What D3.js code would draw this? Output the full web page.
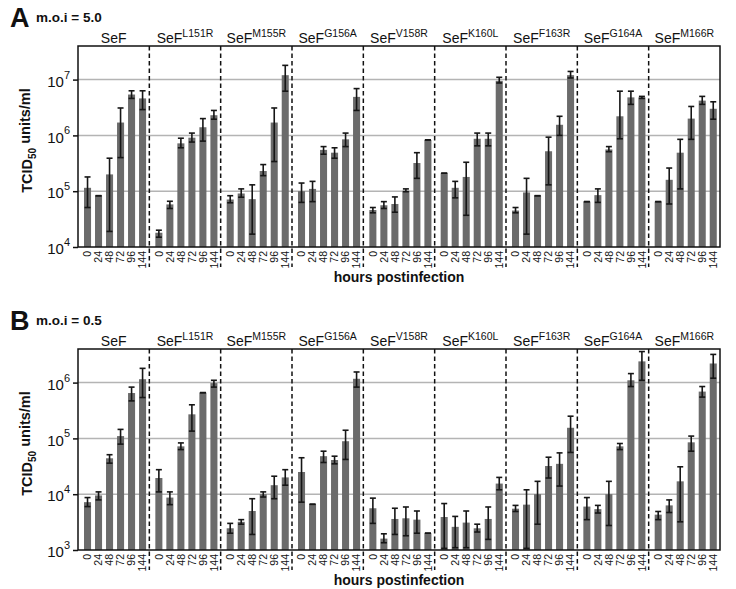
<!DOCTYPE html>
<html>
<head>
<meta charset="utf-8">
<script src="https://cdn.jsdelivr.net/npm/d3@7"></script>
<style>
  body { margin: 0; background: #fff; }
  text { font-family: "Liberation Sans", Arial, sans-serif; fill: #111; }
</style>
</head>
<body>
<svg id="chart" width="736" height="589"></svg>
<script>
// mutant names (superscript after "SeF"), time points
const mutants = ["", "L151R", "M155R", "G156A", "V158R", "K160L", "F163R", "G164A", "M166R"];
const hours = ["0", "24", "48", "72", "96", "144"];

// panel A, m.o.i = 5.0 : TCID50 units/ml, mean and error bar ends
const meanA = [
  [1.15e5, 8.3e4, 2.0e5, 1.7e6, 5.4e6, 4.6e6],
  [1.8e4, 5.8e4, 7.2e5, 9.1e5, 1.4e6, 2.3e6],
  [7.1e4, 9.1e4, 7.2e4, 2.3e5, 1.7e6, 1.2e7],
  [1.0e5, 1.1e5, 5.5e5, 4.9e5, 8.5e5, 4.9e6],
  [4.6e4, 5.6e4, 5.9e4, 1.02e5, 3.2e5, 8.3e5],
  [2.1e5, 1.15e5, 1.8e5, 8.7e5, 8.7e5, 9.5e6],
  [4.5e4, 9.5e4, 8.3e4, 5.2e5, 1.55e6, 1.2e7],
  [6.5e4, 8.5e4, 5.6e5, 2.2e6, 4.8e6, 4.8e6],
  [6.5e4, 1.6e5, 4.9e5, 2.0e6, 4.2e6, 3.0e6]
];
const hiA = [
  [1.8e5, 8.3e4, 3.9e5, 3.1e6, 6.3e6, 6.3e6],
  [2.0e4, 6.6e4, 8.9e5, 1.1e6, 2.0e6, 2.8e6],
  [8.3e4, 1.1e5, 1.3e5, 3.0e5, 3.1e6, 1.8e7],
  [1.4e5, 1.5e5, 6.3e5, 6.0e5, 1.1e6, 6.9e6],
  [5.1e4, 6.5e4, 7.9e4, 1.1e5, 4.9e5, 8.3e5],
  [2.1e5, 1.5e5, 3.3e5, 1.1e6, 1.1e6, 1.1e7],
  [5.1e4, 1.7e5, 8.3e4, 9.3e5, 2.2e6, 1.4e7],
  [6.5e4, 1.1e5, 6.3e5, 6.2e6, 6.2e6, 5.0e6],
  [6.5e4, 2.6e5, 8.5e5, 3.3e6, 5.0e6, 4.0e6]
];
const loA = [
  [5.1e4, 8.3e4, 1.9e4, 4.0e5, 4.6e6, 2.9e6],
  [1.5e4, 4.9e4, 6.0e5, 7.6e5, 7.9e5, 1.95e6],
  [6.2e4, 7.8e4, 1.7e4, 1.9e5, 3.4e5, 6.2e6],
  [6.3e4, 6.5e4, 4.6e5, 3.9e5, 6.3e5, 2.8e6],
  [4.1e4, 4.9e4, 4.2e4, 9.8e4, 1.7e5, 8.3e5],
  [2.1e5, 7.6e4, 3.7e4, 6.5e5, 6.5e5, 8.7e6],
  [4.1e4, 1.7e4, 8.3e4, 1.3e5, 1.0e6, 1.07e7],
  [6.5e4, 6.3e4, 5.1e5, 8.7e5, 3.6e6, 4.6e6],
  [6.5e4, 5.9e4, 1.1e5, 8.5e5, 3.6e6, 1.95e6]
];

// panel B, m.o.i = 0.5
const meanB = [
  [7.2e3, 9.5e3, 4.4e4, 1.1e5, 6.5e5, 1.15e6],
  [1.95e4, 8.7e3, 7.2e4, 2.7e5, 6.6e5, 9.8e5],
  [2.45e3, 3.2e3, 5.0e3, 1.0e4, 1.45e4, 2.0e4],
  [2.5e4, 6.6e3, 4.8e4, 4.1e4, 8.9e4, 1.17e6],
  [5.6e3, 1.6e3, 3.6e3, 3.7e3, 3.5e3, 2.0e3],
  [3.9e3, 2.6e3, 3.1e3, 2.45e3, 3.6e3, 1.55e4],
  [5.5e3, 6.5e3, 1.0e4, 3.2e4, 3.5e4, 1.55e5],
  [6.0e3, 5.4e3, 1.0e4, 7.2e4, 1.1e6, 2.4e6],
  [4.3e3, 6.3e3, 1.7e4, 8.5e4, 6.9e5, 2.2e6]
];
const hiB = [
  [8.7e3, 1.1e4, 5.1e4, 1.45e5, 8.3e5, 1.8e6],
  [2.75e4, 1.1e4, 8.3e4, 4.0e5, 6.6e5, 1.1e6],
  [3.0e3, 3.5e3, 8.3e3, 1.1e4, 2.1e4, 2.75e4],
  [4.5e4, 6.6e3, 5.9e4, 4.8e4, 1.4e5, 1.55e6],
  [8.5e3, 1.95e3, 5.6e3, 5.9e3, 5.0e3, 2.0e3],
  [6.8e3, 4.0e3, 5.0e3, 2.9e3, 5.9e3, 2.0e4],
  [6.3e3, 1.2e4, 1.7e4, 4.6e4, 5.5e4, 2.5e5],
  [8.7e3, 6.3e3, 1.7e4, 8.1e4, 1.45e6, 3.6e6],
  [4.9e3, 7.9e3, 3.1e4, 1.1e5, 8.5e5, 3.2e6]
];
const loB = [
  [6.0e3, 7.9e3, 3.6e4, 7.9e4, 4.7e5, 5.4e5],
  [1.1e4, 6.5e3, 6.3e4, 1.35e5, 6.6e5, 8.3e5],
  [2.0e3, 2.9e3, 1.9e3, 8.9e3, 8.3e3, 1.45e4],
  [7.2e3, 6.6e3, 3.7e4, 3.5e4, 4.2e4, 8.3e5],
  [3.0e3, 1.35e3, 1.9e3, 1.8e3, 2.0e3, 2.0e3],
  [1.07e3, 1.1e3, 1.1e3, 2.1e3, 1.55e3, 1.2e4],
  [4.9e3, 1.07e3, 2.9e3, 1.95e4, 1.4e4, 5.6e4],
  [3.5e3, 4.6e3, 2.75e3, 6.3e4, 8.5e5, 1.1e6],
  [3.5e3, 4.7e3, 3.2e3, 5.9e4, 5.5e5, 1.2e6]
];

const svg = d3.select("#chart");
const left = 78, right = 720;

function drawPanel(p) {
  const {top, bottom, domain, decades, mean, hi, lo, letter, moi} = p;

  const x0 = d3.scaleBand().domain(d3.range(mutants.length)).range([left, right]);
  const x1 = d3.scaleBand().domain(hours).range([0, x0.bandwidth()])
      .paddingInner(0.36).paddingOuter(0.42).align(0.65);
  const y = d3.scaleLog().domain(domain).range([bottom, top]);

  const g = svg.append("g");

  // grid lines
  g.selectAll("line.grid")
    .data(decades.slice(1))
    .enter().append("line")
    .attr("x1", left).attr("x2", right)
    .attr("y1", d => y(d)).attr("y2", d => y(d))
    .attr("stroke", "#b4b4b4").attr("stroke-width", 1.5);

  // bars
  const rows = [];
  mean.forEach((arr, gi) => arr.forEach((v, k) => rows.push({gi, h: hours[k], v, hi: hi[gi][k], lo: lo[gi][k]})));

  g.selectAll("rect.bar")
    .data(rows)
    .enter().append("rect")
    .attr("x", d => x0(d.gi) + x1(d.h))
    .attr("width", x1.bandwidth())
    .attr("y", d => y(d.v))
    .attr("height", d => bottom - y(d.v))
    .attr("fill", "#6b6b6b");

  // error bars
  const cap = 3;
  const eb = g.selectAll("g.err").data(rows).enter().append("g")
    .attr("transform", d => `translate(${x0(d.gi) + x1(d.h) + x1.bandwidth() / 2},0)`)
    .attr("stroke", "#161616").attr("stroke-width", 1.6);
  eb.append("line").attr("y1", d => y(d.hi)).attr("y2", d => y(d.lo));
  eb.append("line").attr("x1", -cap).attr("x2", cap).attr("y1", d => y(d.hi)).attr("y2", d => y(d.hi));
  eb.append("line").attr("x1", -cap).attr("x2", cap).attr("y1", d => y(d.lo)).attr("y2", d => y(d.lo));

  // dashed separators
  g.selectAll("line.sep")
    .data(d3.range(1, mutants.length))
    .enter().append("line")
    .attr("x1", d => x0(d)).attr("x2", d => x0(d))
    .attr("y1", top).attr("y2", bottom + 20)
    .attr("stroke", "#111").attr("stroke-width", 1.5)
    .attr("stroke-dasharray", "4.5,3");

  // frame
  g.append("rect")
    .attr("x", left).attr("y", top)
    .attr("width", right - left).attr("height", bottom - top)
    .attr("fill", "none").attr("stroke", "#111").attr("stroke-width", 1.5);

  // y axis
  const yAxis = d3.axisLeft(y).tickValues(decades).tickSize(5).tickPadding(3);
  const ya = g.append("g").attr("transform", `translate(${left},0)`).call(yAxis);
  ya.select(".domain").remove();
  ya.selectAll(".tick line").attr("stroke", "#111").attr("stroke-width", 1.5);
  ya.selectAll(".tick text").text(null)
    .attr("font-size", 15).attr("dy", "0.45em")
    .each(function(d) {
      const t = d3.select(this);
      t.append("tspan").text("10");
      t.append("tspan").attr("font-size", 11).attr("dy", "-0.75em").text(Math.round(Math.log10(d)));
    });

  // x tick labels (rotated hours)
  g.selectAll("text.hr")
    .data(rows)
    .enter().append("text")
    .attr("transform", d => `translate(${x0(d.gi) + x1(d.h) + x1.bandwidth() / 2},${bottom + 4}) rotate(-90)`)
    .attr("text-anchor", "end").attr("dy", "0.35em")
    .attr("font-size", 10.5)
    .text(d => d.h);

  // group titles
  const gt = g.selectAll("text.grp")
    .data(mutants)
    .enter().append("text")
    .attr("x", (d, i) => x0(i) + x0.bandwidth() / 2)
    .attr("y", top - 3)
    .attr("text-anchor", "middle")
    .attr("font-size", 14);
  gt.append("tspan").text("SeF");
  gt.append("tspan").attr("font-size", 10.5).attr("dy", "-0.55em").text(d => d);

  // axis titles
  g.append("text")
    .attr("x", 399).attr("y", bottom + 35)
    .attr("text-anchor", "middle")
    .attr("font-size", 14).attr("font-weight", "bold")
    .text("hours postinfection");

  const yt = g.append("text")
    .attr("transform", `translate(32,${(top + bottom) / 2 - 6}) rotate(-90)`)
    .attr("text-anchor", "middle")
    .attr("font-size", 14.5).attr("font-weight", "bold");
  yt.append("tspan").text("TCID");
  yt.append("tspan").attr("font-size", 10).attr("dy", "0.35em").text("50");
  yt.append("tspan").attr("dy", "-0.35em").text(" units/ml");

  // panel letter
  g.append("text").attr("x", 10).attr("y", top - 19)
    .attr("font-size", 27).attr("font-weight", "bold").text(letter);
  g.append("text").attr("x", 36).attr("y", top - 24)
    .attr("font-size", 13.5).attr("font-weight", "bold").text(moi);
}

drawPanel({top: 46, bottom: 247, domain: [1e4, 4e7], decades: [1e4, 1e5, 1e6, 1e7],
  mean: meanA, hi: hiA, lo: loA, letter: "A", moi: "m.o.i = 5.0"});
drawPanel({top: 349, bottom: 550, domain: [1e3, 4e6], decades: [1e3, 1e4, 1e5, 1e6],
  mean: meanB, hi: hiB, lo: loB, letter: "B", moi: "m.o.i = 0.5"});
</script>
</body>
</html>
